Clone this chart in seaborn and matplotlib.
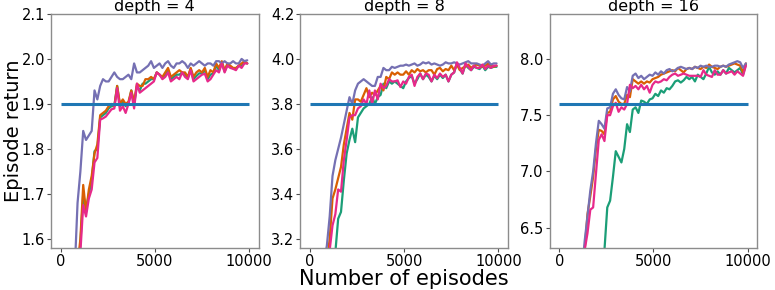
import numpy as np
import pandas as pd
import matplotlib
matplotlib.use("Agg")
import matplotlib.pyplot as plt
import seaborn as sns

# evaluation points (episodes)
episodes = list(range(0, 10000, 150))
depths = [4, 8, 16]
methods = ["A", "B", "C", "D"]
thresholds = [1.9, 3.8, 7.6]
y_limits = [(1.58, 2.1), (3.16, 4.2), (6.32, 8.4)]
y_ticks = [[1.6, 1.7, 1.8, 1.9, 2.0, 2.1],
           [3.2, 3.4, 3.6, 3.8, 4.0, 4.2],
           [6.5, 7.0, 7.5, 8.0]]

# depth = 4
d4_green = [0.88, 1.03, 1.18, 1.28, 1.38, 1.46, 1.52, 1.59, 1.70, 1.665,
            1.70, 1.73, 1.795, 1.80, 1.87, 1.875, 1.88, 1.89, 1.895, 1.895,
            1.94, 1.895, 1.905, 1.895, 1.90, 1.93, 1.90, 1.94, 1.93, 1.945,
            1.945, 1.95, 1.955, 1.955, 1.97, 1.965, 1.958, 1.965, 1.975, 1.955,
            1.96, 1.965, 1.965, 1.97, 1.965, 1.958, 1.978, 1.955, 1.962, 1.968,
            1.968, 1.975, 1.955, 1.965, 1.968, 1.985, 1.975, 1.992, 1.972, 1.988,
            1.982, 1.979, 1.978, 1.985, 1.985, 1.992, 1.99]
d4_orange = [0.90, 1.05, 1.20, 1.30, 1.40, 1.48, 1.54, 1.60, 1.72, 1.66,
             1.71, 1.74, 1.79, 1.81, 1.875, 1.88, 1.885, 1.895, 1.90, 1.895,
             1.94, 1.90, 1.91, 1.90, 1.905, 1.93, 1.905, 1.945, 1.94, 1.94,
             1.955, 1.955, 1.96, 1.955, 1.97, 1.965, 1.96, 1.97, 1.98, 1.96,
             1.965, 1.97, 1.975, 1.97, 1.97, 1.96, 1.98, 1.96, 1.97, 1.975,
             1.97, 1.98, 1.96, 1.975, 1.97, 1.99, 1.98, 1.995, 1.975, 1.99,
             1.985, 1.98, 1.98, 1.985, 1.99, 1.995, 1.99]
d4_purple = [1.00, 1.15, 1.28, 1.38, 1.46, 1.53, 1.68, 1.75, 1.84, 1.82,
             1.83, 1.84, 1.93, 1.91, 1.94, 1.955, 1.95, 1.95, 1.96, 1.97,
             1.96, 1.955, 1.955, 1.96, 1.965, 1.955, 1.99, 1.97, 1.97, 1.975,
             1.98, 1.985, 1.995, 1.98, 1.985, 1.99, 1.98, 1.99, 1.995, 1.985,
             1.98, 1.99, 1.99, 1.995, 1.99, 1.98, 1.99, 1.985, 1.99, 1.995,
             1.99, 1.985, 1.99, 1.99, 1.985, 1.995, 1.995, 1.99, 1.995, 1.99,
             1.99, 1.995, 1.99, 1.99, 2.0, 1.995, 1.997]
d4_pink = [0.85, 1.00, 1.15, 1.25, 1.35, 1.43, 1.50, 1.57, 1.675, 1.65,
           1.69, 1.71, 1.77, 1.78, 1.865, 1.868, 1.872, 1.88, 1.888, 1.89,
           1.935, 1.885, 1.895, 1.88, 1.90, 1.925, 1.89, 1.945, 1.925, 1.93,
           1.935, 1.94, 1.945, 1.95, 1.97, 1.965, 1.955, 1.96, 1.97, 1.95,
           1.955, 1.96, 1.955, 1.97, 1.96, 1.955, 1.975, 1.95, 1.955, 1.96,
           1.965, 1.967, 1.95, 1.955, 1.965, 1.975, 1.97, 1.99, 1.97, 1.985,
           1.98, 1.978, 1.975, 1.985, 1.98, 1.99, 1.99]

# depth = 8
d8_green = [1.0, 1.4, 1.8, 2.15, 2.45, 2.7, 2.88, 3.0, 3.08, 3.14,
            3.29, 3.32, 3.46, 3.58, 3.64, 3.69, 3.63, 3.74, 3.76, 3.78,
            3.79, 3.80, 3.83, 3.80, 3.83, 3.84, 3.89, 3.87, 3.90, 3.89,
            3.90, 3.89, 3.88, 3.87, 3.90, 3.915, 3.925, 3.89, 3.91, 3.935,
            3.91, 3.93, 3.92, 3.90, 3.925, 3.91, 3.93, 3.915, 3.93, 3.90,
            3.93, 3.94, 3.98, 3.955, 3.935, 3.975, 3.96, 3.95, 3.965, 3.96,
            3.955, 3.97, 3.95, 3.965, 3.96, 3.965, 3.965]
d8_orange = [1.4, 1.8, 2.2, 2.5, 2.75, 2.95, 3.1, 3.2, 3.38, 3.42,
             3.47, 3.52, 3.62, 3.69, 3.76, 3.73, 3.82, 3.82, 3.81, 3.84,
             3.87, 3.83, 3.85, 3.84, 3.86, 3.88, 3.86, 3.92, 3.91, 3.94,
             3.93, 3.94, 3.93, 3.93, 3.945, 3.93, 3.95, 3.94, 3.955, 3.945,
             3.95, 3.94, 3.95, 3.95, 3.93, 3.955, 3.96, 3.945, 3.955, 3.95,
             3.97, 3.95, 3.975, 3.95, 3.96, 3.965, 3.975, 3.96, 3.97, 3.975,
             3.97, 3.965, 3.97, 3.98, 3.97, 3.965, 3.97]
d8_purple = [1.5, 1.9, 2.3, 2.65, 2.9, 3.1, 3.17, 3.3, 3.48, 3.55,
             3.60, 3.65, 3.71, 3.77, 3.83, 3.80, 3.86, 3.89, 3.90, 3.91,
             3.90, 3.89, 3.88, 3.88, 3.92, 3.92, 3.96, 3.95, 3.95, 3.965,
             3.96, 3.965, 3.97, 3.97, 3.975, 3.97, 3.975, 3.98, 3.97, 3.975,
             3.985, 3.98, 3.985, 3.975, 3.98, 3.975, 3.97, 3.975, 3.985, 3.98,
             3.98, 3.985, 3.98, 3.975, 3.98, 3.985, 3.99, 3.98, 3.98, 3.98,
             3.975, 3.97, 3.98, 3.99, 3.975, 3.98, 3.98]
d8_pink = [1.3, 1.7, 2.1, 2.4, 2.7, 2.9, 3.05, 3.15, 3.26, 3.31,
           3.42, 3.41, 3.55, 3.64, 3.74, 3.75, 3.75, 3.78, 3.79, 3.82,
           3.80, 3.86, 3.80, 3.86, 3.82, 3.89, 3.87, 3.88, 3.91, 3.90,
           3.90, 3.905, 3.875, 3.90, 3.89, 3.92, 3.93, 3.88, 3.92, 3.935,
           3.91, 3.935, 3.93, 3.90, 3.93, 3.915, 3.935, 3.92, 3.93, 3.90,
           3.93, 3.94, 3.985, 3.96, 3.935, 3.98, 3.965, 3.95, 3.97, 3.96,
           3.96, 3.975, 3.955, 3.97, 3.96, 3.97, 3.97]

# depth = 16
d16_green = [0.8, 1.2, 1.6, 2.0, 2.4, 2.8, 3.2, 3.6, 4.0, 4.4,
             4.8, 5.1, 5.4, 5.7, 5.95, 6.15, 6.3, 6.68, 6.74, 6.95,
             7.18, 7.13, 7.08, 7.20, 7.42, 7.35, 7.55, 7.57, 7.52, 7.63,
             7.62, 7.60, 7.64, 7.65, 7.69, 7.67, 7.72, 7.70, 7.74, 7.73,
             7.76, 7.80, 7.81, 7.79, 7.81, 7.84, 7.82, 7.84, 7.80, 7.86,
             7.84, 7.82, 7.87, 7.93, 7.88, 7.86, 7.89, 7.86, 7.90, 7.87,
             7.92, 7.90, 7.88, 7.90, 7.92, 7.86, 7.95]
d16_orange = [1.8, 2.4, 3.0, 3.5, 4.0, 4.5, 5.0, 5.5, 5.9, 6.3,
              6.62, 6.78, 6.95, 7.20, 7.37, 7.36, 7.33, 7.52, 7.53, 7.64,
              7.67, 7.62, 7.60, 7.60, 7.68, 7.66, 7.82, 7.80, 7.78, 7.80,
              7.78, 7.80, 7.79, 7.82, 7.83, 7.84, 7.86, 7.87, 7.88, 7.89,
              7.90, 7.89, 7.92, 7.90, 7.88, 7.91, 7.92, 7.91, 7.93, 7.92,
              7.91, 7.93, 7.92, 7.95, 7.93, 7.92, 7.91, 7.93, 7.94, 7.93,
              7.94, 7.95, 7.96, 7.95, 7.94, 7.88, 7.96]
d16_purple = [2.0, 2.6, 3.2, 3.7, 4.2, 4.7, 5.2, 5.7, 6.1, 6.38,
              6.60, 6.83, 7.00, 7.25, 7.45, 7.42, 7.38, 7.56, 7.57, 7.69,
              7.73, 7.68, 7.65, 7.64, 7.75, 7.71, 7.85, 7.87, 7.83, 7.85,
              7.82, 7.84, 7.86, 7.85, 7.88, 7.86, 7.89, 7.87, 7.90, 7.91,
              7.89, 7.90, 7.92, 7.93, 7.92, 7.91, 7.92, 7.91, 7.93, 7.92,
              7.94, 7.93, 7.94, 7.93, 7.93, 7.94, 7.94, 7.93, 7.94, 7.93,
              7.95, 7.96, 7.97, 7.98, 7.97, 7.92, 7.96]
d16_pink = [1.7, 2.3, 2.9, 3.4, 3.9, 4.4, 4.9, 5.4, 5.9, 6.3,
            6.45, 6.66, 6.68, 6.98, 7.28, 7.33, 7.27, 7.50, 7.50, 7.58,
            7.61, 7.53, 7.57, 7.55, 7.60, 7.77, 7.74, 7.76, 7.73, 7.77,
            7.73, 7.76, 7.70, 7.77, 7.80, 7.79, 7.80, 7.82, 7.81, 7.84,
            7.86, 7.87, 7.85, 7.86, 7.87, 7.86, 7.85, 7.85, 7.85, 7.85,
            7.84, 7.90, 7.86, 7.85, 7.84, 7.90, 7.86, 7.86, 7.90, 7.87,
            7.88, 7.89, 7.86, 7.89, 7.87, 7.85, 7.94]

series = {
    4: [d4_green, d4_orange, d4_purple, d4_pink],
    8: [d8_green, d8_orange, d8_purple, d8_pink],
    16: [d16_green, d16_orange, d16_purple, d16_pink],
}

rows = []
for d in depths:
    for m, vals in zip(methods, series[d]):
        for e, v in zip(episodes, vals):
            rows.append({"depth": d, "method": m, "episodes": e, "return": v})
df = pd.DataFrame(rows)

sns.set_style("white")
plt.rcParams["font.family"] = ["DejaVu Sans"]
plt.rcParams["text.color"] = "black"
plt.rcParams["axes.labelcolor"] = "black"
plt.rcParams["xtick.color"] = "black"
plt.rcParams["ytick.color"] = "black"

fig, axes = plt.subplots(1, 3, figsize=(7.75, 2.9), dpi=100)
fig.subplots_adjust(left=0.066, right=0.977, bottom=0.145, top=0.952, wspace=0.202)

palette = sns.color_palette("Dark2", 4)

for ax, d, thr, ylim, yt in zip(axes, depths, thresholds, y_limits, y_ticks):
    sub = df[df["depth"] == d]
    sns.lineplot(data=sub, x="episodes", y="return", hue="method",
                 palette=palette, legend=False, linewidth=1.6, ax=ax)
    ax.hlines(thr, 0, 10000, color="#1f77b4", linewidth=2.2)
    ax.set_xlim(-500, 10500)
    ax.set_ylim(*ylim)
    ax.set_yticks(yt)
    ax.set_xticks([0, 5000, 10000])
    ax.set_title(f"depth = {d}", fontsize=11.5, pad=2, color="black")
    ax.tick_params(axis="both", labelsize=10.5, length=3, width=0.8,
                   color="0.3", pad=1.5, direction="out", labelcolor="black")
    ax.tick_params(left=True, bottom=True)
    for sp in ax.spines.values():
        sp.set_color("0.55")
        sp.set_linewidth(1.0)
    ax.set_xlabel("")
    ax.set_ylabel("")

axes[0].set_ylabel("Episode return", fontsize=14)
# right edge of the rotated label sits ~23 px from the figure edge
axes[0].yaxis.set_label_coords(-0.1356, 0.5)
axes[1].set_xlabel("Number of episodes", fontsize=15, labelpad=0)

fig.savefig("out.png", dpi=100)
